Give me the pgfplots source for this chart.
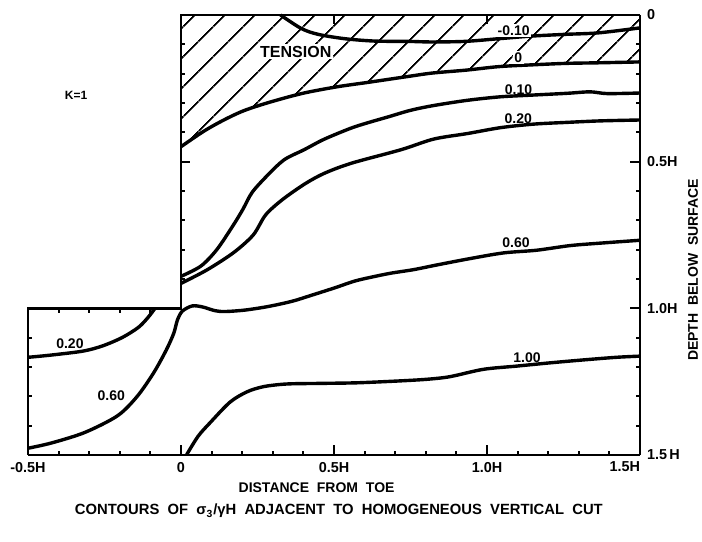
\documentclass[border=0pt]{standalone}
\usepackage{fontspec}
\setmainfont{Liberation Sans}
\usepackage{pgfplots}
\pgfplotsset{compat=1.18}
\usetikzlibrary{patterns.meta}

\begin{document}
\begin{tikzpicture}[font=\bfseries,
    lab/.style={font=\fontsize{7}{8}\selectfont\bfseries, inner sep=0.8pt}]
\begin{axis}[
    scale only axis,
    width=306pt, height=220pt,
    xmin=-0.5, xmax=1.5, ymin=0, ymax=1.5,
    y dir=reverse,
    clip=false,
    axis x line*=bottom,
    axis y line*=right,
    axis line style={line width=1.4pt, -},
    tick align=inside,
    major tick length=5pt, minor tick length=2.2pt,
    every tick/.style={black, line width=1pt},
    xtick={-0.5,0,0.5,1,1.5},
    xticklabels={-0.5H,0,0.5H,1.0H,\llap{1.5H}},
    minor x tick num=4,
    ytick={0,0.5,1,1.5},
    yticklabels={0,0.5H,1.0H,1.5\,H},
    minor y tick num=4,
    tick label style={font=\fontsize{7.2}{8}\selectfont\bfseries},
    cont/.style={black, line width=1.7pt, smooth, tension=0.5},
]

% hatched tension zone: surface down to the zero contour
\addplot[draw=none, pattern={Lines[angle=45,distance=10.5pt,line width=0.9pt]}]
  coordinates {(0,0) (0,0.449) (0.075,0.396) (0.14,0.358) (0.206,0.326) (0.291,0.297)
    (0.398,0.267) (0.509,0.245) (0.616,0.229) (0.746,0.209) (0.821,0.198) (0.932,0.188)
    (1.039,0.176) (1.147,0.170) (1.258,0.165) (1.365,0.163) (1.5,0.160) (1.5,0)} -- cycle;

% ground surface and cut
\addplot[black, line width=1.4pt] coordinates {(1.5,0) (0,0) (0,1) (-0.5,1) (-0.5,1.5)};

% -0.10
\addplot[cont] coordinates {(0.325,0) (0.393,0.046) (0.448,0.066) (0.536,0.081) (0.634,0.089)
  (0.742,0.090) (0.818,0.092) (0.929,0.090) (1.037,0.081) (1.145,0.072) (1.256,0.066)
  (1.364,0.061) (1.5,0.044)};
% 0
\addplot[cont] coordinates {(0,0.449) (0.075,0.396) (0.14,0.358) (0.206,0.326) (0.291,0.297)
  (0.398,0.267) (0.509,0.245) (0.616,0.229) (0.746,0.209) (0.821,0.198) (0.932,0.188)
  (1.039,0.176) (1.147,0.170) (1.258,0.165) (1.365,0.163) (1.5,0.160)};
% 0.10
\addplot[cont] coordinates {(0,0.891) (0.065,0.856) (0.117,0.800) (0.170,0.718) (0.202,0.663)
  (0.233,0.604) (0.287,0.542) (0.338,0.493) (0.403,0.459) (0.467,0.424) (0.555,0.386)
  (0.615,0.366) (0.675,0.348) (0.750,0.325) (0.824,0.309) (0.935,0.291) (1.043,0.279)
  (1.150,0.273) (1.262,0.267) (1.337,0.262) (1.393,0.268) (1.5,0.266)};
% 0.20
\addplot[cont] coordinates {(0,0.915) (0.085,0.869) (0.172,0.810) (0.236,0.750) (0.277,0.681)
  (0.332,0.629) (0.406,0.575) (0.470,0.539) (0.558,0.505) (0.72,0.459) (0.826,0.423)
  (0.937,0.404) (1.045,0.384) (1.153,0.372) (1.264,0.366) (1.371,0.361) (1.5,0.358)};
% 0.20 under the toe
\addplot[cont] coordinates {(-0.5,1.167) (-0.43,1.160) (-0.321,1.146) (-0.256,1.128)
  (-0.191,1.099) (-0.138,1.064) (-0.106,1.029) (-0.085,1.0)};
% 0.60
\addplot[cont] coordinates {(-0.5,1.477) (-0.423,1.459) (-0.314,1.423) (-0.207,1.366)
  (-0.143,1.300) (-0.090,1.221) (-0.049,1.144) (-0.024,1.086) (-0.012,1.041) (0.004,1.010)
  (0.036,0.992) (0.069,0.995) (0.111,1.008) (0.144,1.011) (0.209,1.006) (0.284,0.994)
  (0.363,0.976) (0.428,0.955) (0.503,0.930) (0.568,0.907) (0.630,0.892) (0.687,0.880)
  (0.761,0.868) (0.837,0.852) (0.947,0.830) (1.055,0.811) (1.162,0.802) (1.273,0.786)
  (1.381,0.777) (1.5,0.768)};
% 1.00
\addplot[cont] coordinates {(0.018,1.5) (0.056,1.436) (0.096,1.389) (0.160,1.320) (0.215,1.285)
  (0.270,1.267) (0.345,1.258) (0.452,1.256) (0.573,1.254) (0.705,1.248) (0.803,1.242)
  (0.879,1.233) (0.988,1.208) (1.097,1.197) (1.205,1.186) (1.314,1.176) (1.423,1.167)
  (1.5,1.163)};

% small ticks along the cut, the top and the toe box
\pgfplotsinvokeforeach{0.1,0.2,0.3,0.4,0.6,0.7,0.8,0.9}{
  \draw[line width=1pt] (axis cs:0,#1) -- ([xshift=2.2pt]axis cs:0,#1);
}
\draw[line width=1pt] (axis cs:0,0.5) -- ([xshift=4.5pt]axis cs:0,0.5);
\pgfplotsinvokeforeach{0.5,1}{
  \draw[line width=1pt] (axis cs:#1,0) -- ([yshift=-4.5pt]axis cs:#1,0);
}
\pgfplotsinvokeforeach{-0.4,-0.3,-0.2,-0.1}{
  \draw[line width=1pt] (axis cs:#1,1) -- ([yshift=-2.2pt]axis cs:#1,1);
}
\pgfplotsinvokeforeach{1.1,1.2,1.3,1.4}{
  \draw[line width=1pt] (axis cs:-0.5,#1) -- ([xshift=2.2pt]axis cs:-0.5,#1);
}

% contour labels
\node[lab, fill=white] at (axis cs:1.087,0.052) {-0.10};
\node[lab, fill=white] at (axis cs:1.102,0.146) {0};
\node[lab] at (axis cs:1.103,0.254) {0.10};
\node[lab] at (axis cs:1.102,0.352) {0.20};
\node[lab] at (axis cs:1.095,0.775) {0.60};
\node[lab] at (axis cs:1.131,1.168) {1.00};
\node[lab] at (axis cs:-0.363,1.122) {0.20};
\node[lab] at (axis cs:-0.228,1.298) {0.60};

\node[font=\fontsize{8}{9}\selectfont\bfseries, fill=white, inner sep=1pt] at (axis cs:0.375,0.125) {TENSION};
\node[font=\fontsize{6}{7}\selectfont\bfseries] at (axis cs:-0.343,0.273) {K=1};

\node[font=\fontsize{7}{8}\selectfont\bfseries] at (axis cs:0.443,1.613) {DISTANCE\ \ FROM\ \ TOE};
\node[font=\fontsize{7}{8}\selectfont\bfseries, rotate=90] at (axis cs:1.673,0.869) {DEPTH\ \ BELOW\ \ SURFACE};
\node[font=\fontsize{7.4}{8}\selectfont\bfseries] at (axis cs:0.516,1.691)
  {CONTOURS\ \ OF\ \ σ\textsubscript{3}/γH\ \ ADJACENT\ \ TO\ \ HOMOGENEOUS\ \ VERTICAL\ \ CUT};

\coordinate (bbA) at (axis cs:-0.5915,-0.0511);
\coordinate (bbB) at (axis cs:1.7026,1.7934);
\end{axis}
\pgfresetboundingbox
\useasboundingbox (bbA) rectangle (bbB);
\end{tikzpicture}
\end{document}
